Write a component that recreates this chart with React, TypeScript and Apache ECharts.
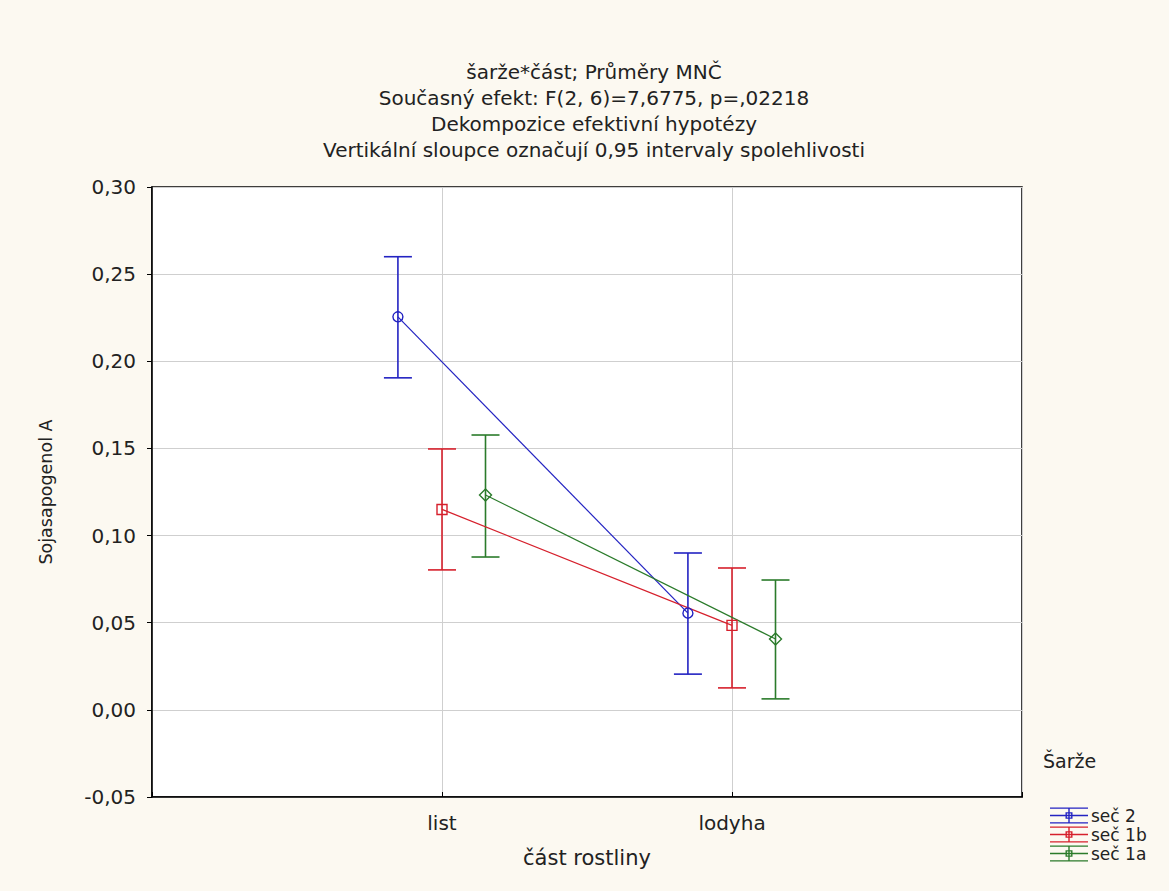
import React, { useEffect, useRef } from "react";
import * as echarts from "echarts";

const categories = ["list", "lodyha"];
const seriesNames = ["seč 2", "seč 1b", "seč 1a"];
const sec2Mean = [0.2255, 0.0555];
const sec2Low = [0.1905, 0.0205];
const sec2High = [0.2600, 0.0900];
const sec1bMean = [0.1150, 0.0485];
const sec1bLow = [0.0803, 0.0126];
const sec1bHigh = [0.1497, 0.0814];
const sec1aMean = [0.1233, 0.0407];
const sec1aLow = [0.0877, 0.0063];
const sec1aHigh = [0.1577, 0.0745];
const yTicks = [-0.05, 0.0, 0.05, 0.1, 0.15, 0.2, 0.25, 0.3];
const titleLines = [
  "šarže*část; Průměry MNČ",
  "Současný efekt: F(2, 6)=7,6775, p=,02218",
  "Dekompozice efektivní hypotézy",
  "Vertikální sloupce označují 0,95 intervaly spolehlivosti",
];

const colors = ["#2323c2", "#d6202c", "#2b7b2b"];
const symbols = ["circle", "rect", "diamond"];
const offsets = [-0.152, 0, 0.15];
const FONT = "'DejaVu Sans', Verdana, sans-serif";
const TXT = "#222";

const legendIcon =
  "path://M0 0H38V1.4H0Z M0 7.8H38V9.2H0Z M0 15.6H38V17H0Z M18.3 0H19.7V17H18.3Z M15.5 5H22.5V12H15.5Z M16.9 6.4V10.6H21.1V6.4Z";

export default function App() {
  const ref = useRef<HTMLDivElement>(null);
  useEffect(() => {
    if (!ref.current) return;
    const chart = echarts.init(ref.current, undefined, { renderer: "svg" });
    const means = [sec2Mean, sec1bMean, sec1aMean];
    const lows = [sec2Low, sec1bLow, sec1aLow];
    const highs = [sec2High, sec1bHigh, sec1aHigh];
    const series: any[] = [];
    seriesNames.forEach((name, i) => {
      series.push({
        name,
        type: "custom",
        z: 2,
        renderItem: (params: any, api: any) => {
          const x = api.value(0);
          const lo = api.coord([x, api.value(1)]);
          const hi = api.coord([x, api.value(2)]);
          const hw = 14;
          const st = { stroke: colors[i], lineWidth: 1.6 };
          return {
            type: "group",
            children: [
              { type: "line", shape: { x1: lo[0], y1: lo[1], x2: hi[0], y2: hi[1] }, style: st },
              { type: "line", shape: { x1: lo[0] - hw, y1: lo[1], x2: lo[0] + hw, y2: lo[1] }, style: st },
              { type: "line", shape: { x1: hi[0] - hw, y1: hi[1], x2: hi[0] + hw, y2: hi[1] }, style: st },
            ],
          };
        },
        data: categories.map((_, k) => [k + 1 + offsets[i], lows[i][k], highs[i][k]]),
      });
      series.push({
        name,
        type: "line",
        z: 3,
        symbol: symbols[i],
        symbolSize: i === 2 ? 12 : 10,
        showSymbol: true,
        lineStyle: { color: colors[i], width: 1.2 },
        itemStyle: { color: "rgba(255,255,255,0)", borderColor: colors[i], borderWidth: 1.4 },
        data: categories.map((_, k) => [k + 1 + offsets[i], means[i][k]]),
      });
    });

    chart.setOption({
      animation: false,
      backgroundColor: "#fcf9f1",
      textStyle: { fontFamily: FONT },
      grid: {
        left: 152,
        top: 187,
        width: 870,
        height: 610,
        show: true,
        backgroundColor: "#ffffff",
        borderColor: "#000",
        borderWidth: 1.5,
      },
      legend: {
        orient: "vertical",
        left: 1045,
        top: 802,
        itemWidth: 38,
        itemHeight: 16,
        itemGap: 2,
        symbolKeepAspect: false,
        textStyle: { fontFamily: FONT, fontSize: 17, lineHeight: 17, color: TXT, padding: [0, 0, 0, -2] },
        data: seriesNames.map((n, i) => ({ name: n, icon: legendIcon, itemStyle: { color: colors[i] } })),
      },
      graphic: [
        ...titleLines.map((t, i) => ({
          type: "text",
          x: 594,
          y: 72 + i * 26,
          silent: true,
          style: {
            text: t,
            fontFamily: FONT,
            fontSize: 20,
            fill: TXT,
            align: "center",
            verticalAlign: "middle",
          },
        })),
        {
          type: "text",
          x: 1043,
          y: 761,
          style: { text: "Šarže", fontFamily: FONT, fontSize: 19, fill: TXT, verticalAlign: "middle" },
        },
      ],
      xAxis: {
        type: "value",
        min: 0,
        max: 3,
        interval: 1,
        name: "část rostliny",
        nameLocation: "middle",
        nameGap: 50,
        nameTextStyle: { fontFamily: FONT, fontSize: 21, color: TXT },
        axisLine: { show: true, onZero: false, lineStyle: { color: "#000", width: 1.5 } },
        axisTick: { show: true, inside: true, length: 5, lineStyle: { color: "#000" } },
        axisLabel: {
          margin: 16,
          fontFamily: FONT,
          fontSize: 20,
          color: TXT,
          formatter: (v: number) => (v >= 1 && v <= categories.length && Number.isInteger(v) ? categories[v - 1] : ""),
        },
        splitLine: { show: true, lineStyle: { color: "#cfcfcf", width: 1 } },
      },
      yAxis: {
        type: "value",
        min: yTicks[0],
        max: yTicks[yTicks.length - 1],
        interval: 0.05,
        name: "Sojasapogenol A",
        nameLocation: "middle",
        nameGap: 97,
        nameTextStyle: { fontFamily: FONT, fontSize: 17.5, color: TXT },
        axisLine: { show: true, onZero: false, lineStyle: { color: "#000", width: 1.5 } },
        axisTick: { show: true, inside: false, length: 5, lineStyle: { color: "#000" } },
        axisLabel: {
          margin: 16,
          fontFamily: FONT,
          fontSize: 20,
          color: TXT,
          formatter: (v: number) => v.toFixed(2).replace(".", ","),
        },
        splitLine: { show: true, lineStyle: { color: "#cfcfcf", width: 1 } },
      },
      series,
    });
    return () => chart.dispose();
  }, []);
  return <div ref={ref} style={{ position: "fixed", left: 0, top: 0, width: 1169, height: 891 }} />;
}
